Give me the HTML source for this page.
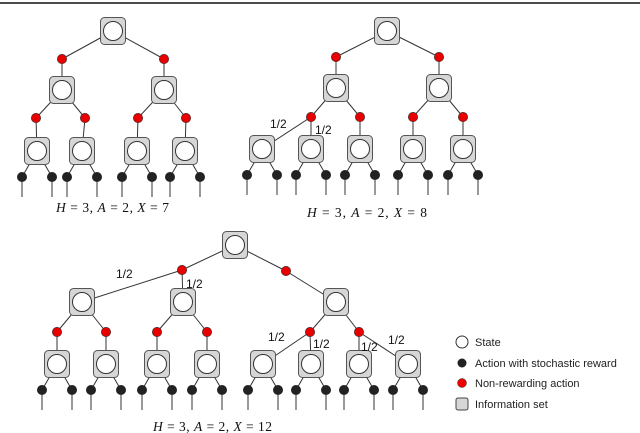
<!DOCTYPE html>
<html><head><meta charset="utf-8"><style>
html,body{margin:0;padding:0;background:#fff;}
svg{display:block;}
.lab{font-family:"Liberation Serif",serif;font-size:13.5px;fill:#111;}
.lab i{font-style:italic}
.half{font-family:"Liberation Sans",sans-serif;font-size:12px;fill:#111;}
.leg{font-family:"Liberation Sans",sans-serif;font-size:11px;fill:#222;}
</style></head><body>
<svg id="s" width="640" height="433" viewBox="0 0 640 433" xmlns="http://www.w3.org/2000/svg">
<line x1="0" y1="3" x2="640" y2="3" stroke="#111" stroke-width="1.5"/>
<g id="edges" stroke="#333" stroke-width="1" fill="none"></g>
<g id="nodes"></g>
<text class="lab" x="56" y="212" textLength="113"><tspan font-style="italic">H</tspan> = 3, <tspan font-style="italic">A</tspan> = 2, <tspan font-style="italic">X</tspan> = 7</text>
<text class="lab" x="307" y="217" textLength="120"><tspan font-style="italic">H</tspan> = 3, <tspan font-style="italic">A</tspan> = 2, <tspan font-style="italic">X</tspan> = 8</text>
<text class="lab" x="153" y="431" textLength="119"><tspan font-style="italic">H</tspan> = 3, <tspan font-style="italic">A</tspan> = 2, <tspan font-style="italic">X</tspan> = 12</text>
<text class="half" x="270" y="128">1/2</text>
<text class="half" x="315" y="134">1/2</text>
<text class="half" x="116" y="278">1/2</text>
<text class="half" x="186" y="288">1/2</text>
<text class="half" x="268" y="341">1/2</text>
<text class="half" x="313" y="348">1/2</text>
<text class="half" x="361" y="351">1/2</text>
<text class="half" x="388" y="344">1/2</text>
<circle cx="462" cy="342" r="6" fill="#fff" stroke="#333"/>
<text class="leg" x="475" y="346">State</text>
<circle cx="462" cy="363" r="4.5" fill="#222"/>
<text class="leg" x="475" y="367">Action with stochastic reward</text>
<circle cx="462" cy="383" r="4.5" fill="#e00" stroke="#333" stroke-width="0.5"/>
<text class="leg" x="475" y="387">Non-rewarding action</text>
<rect x="456" y="398" width="12" height="12" rx="2" fill="#d6d6d6" stroke="#444"/>
<text class="leg" x="475" y="408">Information set</text>
</svg>
<script>
var E=document.getElementById('edges'),N=document.getElementById('nodes'),ns='http://www.w3.org/2000/svg';
function el(p,t,a){var e=document.createElementNS(ns,t);for(var k in a)e.setAttribute(k,a[k]);p.appendChild(e);return e;}
function ln(a,b,c,d){el(E,'line',{x1:a,y1:b,x2:c,y2:d});}
function box(x,y){el(N,'rect',{x:x-12.5,y:y-13.5,width:25,height:27,rx:4,fill:'#d6d6d6',stroke:'#555'});el(N,'circle',{cx:x,cy:y,r:9.5,fill:'#fff',stroke:'#333'});}
function red(x,y){el(N,'circle',{cx:x,cy:y,r:4.7,fill:'#e80000',stroke:'#333','stroke-width':0.6});}
function leaf(x,y,bot){[x-15,x+15].forEach(function(d){ln(x,y,d,y+26);ln(d,y+26,d,bot);el(N,'circle',{cx:d,cy:y+26,r:5,fill:'#222'});});}
function tree(root,l1,l2b,l2r,l3,edges,bot){
 edges.forEach(function(e){ln(e[0],e[1],e[2],e[3]);});
 l3.forEach(function(p){leaf(p[0],p[1],bot);});
 box(root[0],root[1]);l2b.forEach(function(p){box(p[0],p[1]);});l3.forEach(function(p){box(p[0],p[1]);});
 l1.concat(l2r).forEach(function(p){red(p[0],p[1]);});
}
// tree 1
tree([113,31],[[62,59],[164,59]],[[62,90],[164,90]],[[36,118],[85,118],[138,118],[186,118]],
 [[37,151],[82,151],[137,151],[185,151]],
 [[113,31,62,59],[113,31,164,59],[62,59,62,90],[164,59,164,90],[62,90,36,118],[62,90,85,118],[164,90,138,118],[164,90,186,118],
  [36,118,37,151],[85,118,82,151],[138,118,137,151],[186,118,185,151]],197);
// tree 2
tree([387,31],[[336,57],[439,57]],[[336,88],[439,88]],[[311,117],[360,117],[413,117],[463,117]],
 [[262,149],[311,149],[360,149],[413,149],[463,149]],
 [[387,31,336,57],[387,31,439,57],[336,57,336,88],[439,57,439,88],[336,88,311,117],[336,88,360,117],[439,88,413,117],[439,88,463,117],
  [311,117,262,149],[311,117,311,149],[360,117,360,149],[413,117,413,149],[463,117,463,149]],195);
// tree 3
tree([235,245],[[182,270],[286,271]],[[82,302],[183,302],[336,302]],[[57,332],[106,332],[157,332],[207,332],[310,332],[359,332]],
 [[57,364],[106,364],[157,364],[207,364],[263,364],[311,364],[359,364],[408,364]],
 [[235,245,182,270],[235,245,286,271],[182,270,82,302],[182,270,183,302],[286,271,336,302],
  [82,302,57,332],[82,302,106,332],[183,302,157,332],[183,302,207,332],[336,302,310,332],[336,302,359,332],
  [57,332,57,364],[106,332,106,364],[157,332,157,364],[207,332,207,364],[310,332,263,364],[310,332,311,364],[359,332,359,364],[359,332,408,364]],410);
</script>
</body></html>
